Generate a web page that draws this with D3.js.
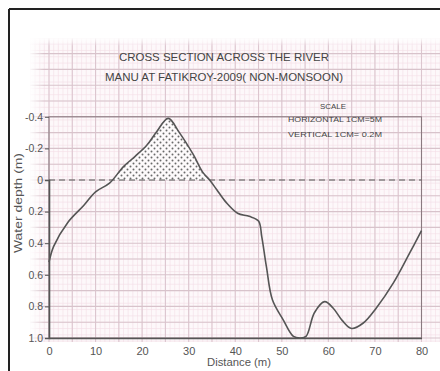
<!DOCTYPE html>
<html><head><meta charset="utf-8">
<script src="https://cdn.jsdelivr.net/npm/d3@7"></script>
<style>html,body{margin:0;padding:0;background:#fff;}svg{display:block;}</style>
</head><body>
<svg id="c" width="440" height="371"></svg>
<script>
// ---- data ----
const distance = [0, 1, 4, 7.5, 10, 13, 16, 18.5, 21, 23, 25.6, 28, 31, 33, 34.5, 36, 38, 40.5, 43, 45, 45.7, 46.7, 48, 50.3, 52.5, 54, 55.2, 57, 59.2, 61, 63, 65, 67.5, 70.3, 74, 77.5, 80];
const depth    = [0.52, 0.42, 0.27, 0.16, 0.075, 0.02, -0.085, -0.15, -0.22, -0.3, -0.39, -0.3, -0.16, -0.05, 0.0, 0.06, 0.14, 0.21, 0.23, 0.26, 0.36, 0.55, 0.76, 0.885, 0.99, 1.0, 0.99, 0.84, 0.77, 0.81, 0.89, 0.94, 0.905, 0.81, 0.65, 0.46, 0.32];
const xTicks = [0, 10, 20, 30, 40, 50, 60, 70, 80];
const yTicks = [-0.4, -0.2, 0, 0.2, 0.4, 0.6, 0.8, 1.0];
const yTickLabels = ["-0.4", "-0.2", "0", "0.2", "0.4", "0.6", "0.8", "1.0"];
const titleLines = ["CROSS SECTION ACROSS THE RIVER", "MANU AT FATIKROY-2009( NON-MONSOON)"];
const scaleLines = ["SCALE", "HORIZONTAL  1CM=5M", "VERTICAL  1CM= 0.2M"];
const xLabel = "Distance (m)";
const yLabel = "Water depth (m)";

const svg = d3.select("#c");
const x = d3.scaleLinear().domain([0, 80]).range([49, 421.5]);
const y = d3.scaleLinear().domain([0, 1]).range([180, 338]);

// page border (scan edge)
svg.append("line").attr("x1", 9).attr("y1", 9).attr("x2", 440).attr("y2", 9).attr("stroke", "#222").attr("stroke-width", 2);
svg.append("line").attr("x1", 9).attr("y1", 9).attr("x2", 9).attr("y2", 371).attr("stroke", "#222").attr("stroke-width", 2);

// graph paper
const paper = {x0: 30, x1: 440, y0: 38, y1: 342};
const defs = svg.append("defs");
defs.append("clipPath").attr("id", "paperClip").append("rect")
  .attr("x", paper.x0).attr("y", paper.y0).attr("width", paper.x1 - paper.x0).attr("height", paper.y1 - paper.y0);
const g = svg.append("g").attr("clip-path", "url(#paperClip)");
g.append("rect").attr("x", paper.x0).attr("y", paper.y0).attr("width", paper.x1 - paper.x0).attr("height", paper.y1 - paper.y0).attr("fill", "#fdf8fa");
const fineX = d3.range(-5, 86, 1), fineY = d3.range(-0.9, 1.06, 0.04);
g.selectAll(".fx").data(fineX).join("line").attr("x1", d => x(d)).attr("x2", d => x(d)).attr("y1", paper.y0).attr("y2", paper.y1)
  .attr("stroke", "#f4dde5").attr("stroke-width", 0.6);
g.selectAll(".fy").data(fineY).join("line").attr("y1", d => y(d)).attr("y2", d => y(d)).attr("x1", paper.x0).attr("x2", paper.x1)
  .attr("stroke", "#f4dde5").attr("stroke-width", 0.6);
const majX = d3.range(-5, 86, 5), majY = d3.range(-0.9, 1.06, 0.1);
g.selectAll(".mx").data(majX).join("line").attr("x1", d => x(d)).attr("x2", d => x(d)).attr("y1", paper.y0).attr("y2", paper.y1)
  .attr("stroke", "#dcc6cf").attr("stroke-width", 1.1);
g.selectAll(".my").data(majY).join("line").attr("y1", d => y(d)).attr("y2", d => y(d)).attr("x1", paper.x0).attr("x2", paper.x1)
  .attr("stroke", "#d8c3cb").attr("stroke-width", 1.1);
// faded paper edges
const lg = defs.append("linearGradient").attr("id", "fadeL").attr("x1", 0).attr("x2", 1);
lg.append("stop").attr("offset", 0).attr("stop-color", "#fff").attr("stop-opacity", 0.9);
lg.append("stop").attr("offset", 1).attr("stop-color", "#fff").attr("stop-opacity", 0);
g.append("rect").attr("x", paper.x0).attr("y", paper.y0).attr("width", 14).attr("height", paper.y1 - paper.y0).attr("fill", "url(#fadeL)");
const tg = defs.append("linearGradient").attr("id", "fadeT").attr("x1", 0).attr("x2", 0).attr("y1", 0).attr("y2", 1);
tg.append("stop").attr("offset", 0).attr("stop-color", "#fff").attr("stop-opacity", 0.9);
tg.append("stop").attr("offset", 1).attr("stop-color", "#fff").attr("stop-opacity", 0);
g.append("rect").attr("x", paper.x0).attr("y", paper.y0).attr("width", paper.x1 - paper.x0).attr("height", 8).attr("fill", "url(#fadeT)");

// frame
svg.append("rect").attr("x", x(0)).attr("y", y(-0.4)).attr("width", x(80) - x(0)).attr("height", y(1) - y(-0.4))
  .attr("fill", "none").attr("stroke", "#8a7a80").attr("stroke-width", 1.1);

// stipple pattern
const pat = defs.append("pattern").attr("id", "dots").attr("patternUnits", "userSpaceOnUse").attr("width", 6).attr("height", 6);
pat.append("rect").attr("width", 6).attr("height", 6).attr("fill", "#fdfafb");
pat.append("circle").attr("cx", 1.5).attr("cy", 1.5).attr("r", 1).attr("fill", "#6a6a6a");
pat.append("circle").attr("cx", 4.5).attr("cy", 4.5).attr("r", 1).attr("fill", "#6a6a6a");

const pts = distance.map((d, i) => [d, depth[i]]);
defs.append("clipPath").attr("id", "aboveZero").append("rect")
  .attr("x", x(0)).attr("y", y(-0.5)).attr("width", x(80) - x(0)).attr("height", y(0) - y(-0.5));
const curve = d3.curveCatmullRom.alpha(0.5);
svg.append("path").datum(pts).attr("clip-path", "url(#aboveZero)")
  .attr("d", d3.area().x(d => x(d[0])).y0(y(0)).y1(d => y(d[1])).curve(curve))
  .attr("fill", "url(#dots)");

// zero dashed line
svg.append("line").attr("x1", x(0)).attr("x2", x(80)).attr("y1", y(0)).attr("y2", y(0))
  .attr("stroke", "#555").attr("stroke-width", 1.2).attr("stroke-dasharray", "6,4");

// profile
svg.append("path").datum(pts)
  .attr("d", d3.line().x(d => x(d[0])).y(d => y(d[1])).curve(curve))
  .attr("fill", "none").attr("stroke", "#555").attr("stroke-width", 1.6);

// axes
const font = "'Liberation Sans Narrow','Arial Narrow','Liberation Sans',sans-serif";
const xAxis = svg.append("g").attr("transform", `translate(0,${y(1)})`)
  .call(d3.axisBottom(x).tickValues(xTicks).tickSize(0).tickPadding(9).tickFormat(d3.format("d")));
xAxis.select(".domain").attr("stroke", "#555").attr("stroke-width", 1.6);
xAxis.selectAll("text").attr("font-family", font).attr("font-size", 11).attr("fill", "#555");
const yAxis = svg.append("g").attr("transform", `translate(${x(0)},0)`)
  .call(d3.axisLeft(y).tickValues(yTicks).tickSize(4).tickPadding(2).tickFormat((d, i) => yTickLabels[i]));
yAxis.select(".domain").attr("stroke", "#555").attr("stroke-width", 1.6);
yAxis.selectAll(".tick line").attr("stroke", "#555");
yAxis.selectAll("text").attr("font-family", font).attr("font-size", 10.5).attr("fill", "#555");

svg.append("text").attr("x", 239).attr("y", 366).attr("text-anchor", "middle")
  .attr("font-family", font).attr("font-size", 10.5).attr("fill", "#555")
  .attr("textLength", 64).attr("lengthAdjust", "spacingAndGlyphs").text(xLabel);
svg.append("text").attr("transform", "translate(22,203) rotate(-90)").attr("text-anchor", "middle")
  .attr("font-family", font).attr("font-size", 11).attr("fill", "#555")
  .attr("textLength", 100).attr("lengthAdjust", "spacingAndGlyphs").text(yLabel);

// titles
svg.selectAll(".title").data(titleLines).join("text")
  .attr("x", 224).attr("y", (d, i) => 61 + i * 20).attr("text-anchor", "middle")
  .attr("font-family", font).attr("font-size", 11).attr("fill", "#444")
  .attr("textLength", (d, i) => i === 0 ? 210 : 238).attr("lengthAdjust", "spacingAndGlyphs").text(d => d);
svg.selectAll(".scale").data(scaleLines).join("text")
  .attr("x", (d, i) => i === 0 ? 333 : 288).attr("y", (d, i) => [109, 122, 137][i])
  .attr("text-anchor", (d, i) => i === 0 ? "middle" : "start")
  .attr("font-family", font).attr("font-size", 7.5).attr("fill", "#444")
  .attr("textLength", (d, i) => i === 0 ? 26 : 94).attr("lengthAdjust", "spacingAndGlyphs").text(d => d);
</script>
</body></html>
